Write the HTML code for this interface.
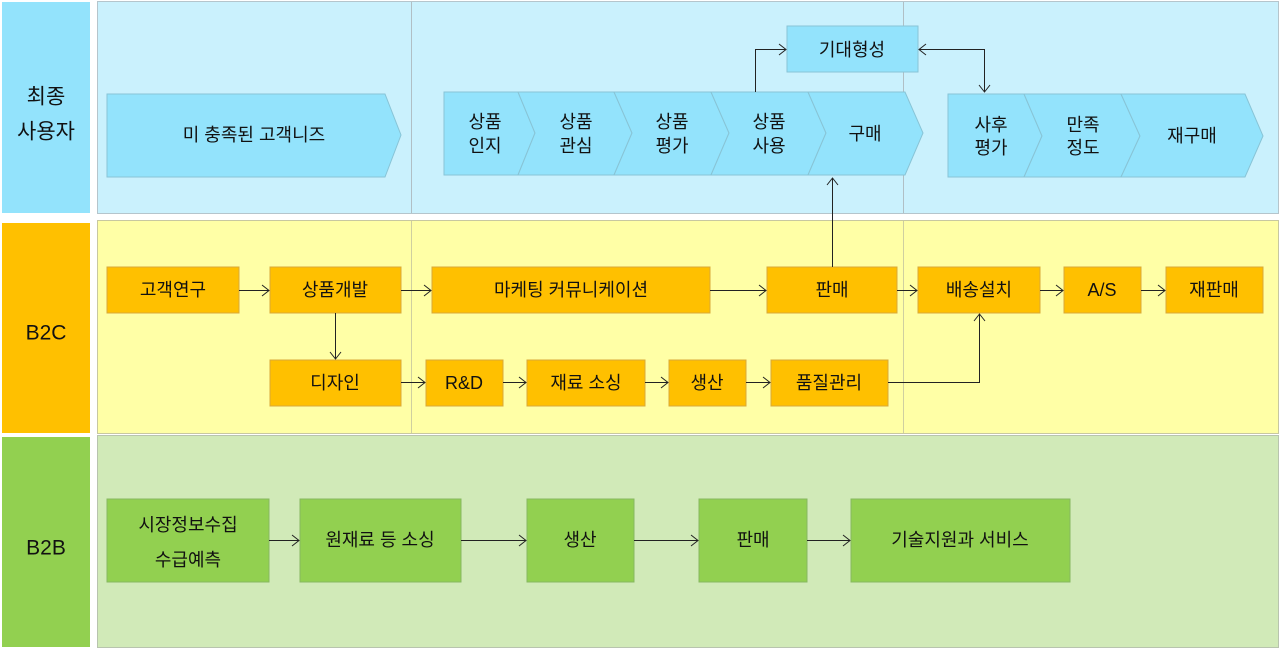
<!DOCTYPE html>
<html><head><meta charset="utf-8"><style>
html,body{margin:0;padding:0;background:#fff}
svg{display:block}
text{font-family:"Liberation Sans","Noto Sans CJK KR",sans-serif;font-size:18px;fill:#111;text-anchor:middle;dominant-baseline:central}
.ln{stroke:#222;stroke-width:1;fill:none}
</style></head><body>
<svg width="1280" height="649" viewBox="0 0 1280 649" xmlns="http://www.w3.org/2000/svg">
<rect x="2" y="2" width="88" height="211" fill="#93e3fc"/>
<rect x="2" y="223" width="88" height="210" fill="#ffc000"/>
<rect x="2" y="437" width="88" height="210" fill="#92d050"/>
<text x="46" y="97" style="font-size:21px">최종</text>
<text x="46" y="132" style="font-size:21px">사용자</text>
<text x="46" y="333" style="font-size:21px">B2C</text>
<text x="46" y="548" style="font-size:21px">B2B</text>
<rect x="97.5" y="1.5" width="1181" height="212" fill="#caf1fd" stroke="#b5c5cc"/>
<rect x="97.5" y="220.5" width="1181" height="213" fill="#ffffa6" stroke="#c8c8a0"/>
<rect x="97.5" y="435.5" width="1181" height="212" fill="#d1eab8" stroke="#b8c4ae"/>
<line x1="411.5" y1="2" x2="411.5" y2="213" stroke="#b0bfc5"/>
<line x1="903.5" y1="2" x2="903.5" y2="213" stroke="#b0bfc5"/>
<line x1="411.5" y1="221" x2="411.5" y2="433" stroke="#cfcfa0"/>
<line x1="903.5" y1="221" x2="903.5" y2="433" stroke="#cfcfa0"/>
<g fill="#93e3fc" stroke="#88c4d6">
<polygon points="107,94 385,94 401,135 385,177 107,177"/>
<polygon points="444,92 518,92 535,133 518,175 444,175"/>
<polygon points="518,92 614,92 632,133 614,175 518,175 535,133"/>
<polygon points="614,92 711,92 729,133 711,175 614,175 632,133"/>
<polygon points="711,92 808,92 826,133 808,175 711,175 729,133"/>
<polygon points="808,92 905,92 923,133 905,175 808,175 826,133"/>
<polygon points="948,94 1024,94 1042,136 1024,177 948,177"/>
<polygon points="1024,94 1121,94 1140,136 1121,177 1024,177 1042,136"/>
<polygon points="1121,94 1245,94 1263,136 1245,177 1121,177 1140,136"/>
<rect x="787" y="26" width="131" height="46"/>
</g>
<text x="254" y="135">미 충족된 고객니즈</text>
<text x="485" y="122">상품</text><text x="485" y="146">인지</text>
<text x="576" y="122">상품</text><text x="576" y="146">관심</text>
<text x="672" y="122">상품</text><text x="672" y="146">평가</text>
<text x="769" y="122">상품</text><text x="769" y="146">사용</text>
<text x="865" y="134">구매</text>
<text x="991" y="125">사후</text><text x="991" y="148">평가</text>
<text x="1083" y="125">만족</text><text x="1083" y="148">정도</text>
<text x="1192" y="136">재구매</text>
<text x="852" y="50">기대형성</text>
<g fill="#ffc000" stroke="#d8a83a">
<rect x="107" y="267" width="132" height="46"/>
<rect x="270" y="267" width="131" height="46"/>
<rect x="432" y="267" width="278" height="46"/>
<rect x="767" y="267" width="130" height="46"/>
<rect x="918" y="267" width="122" height="46"/>
<rect x="1064" y="267" width="77" height="46"/>
<rect x="1166" y="267" width="97" height="46"/>
<rect x="270" y="360" width="131" height="46"/>
<rect x="426" y="360" width="77" height="46"/>
<rect x="527" y="360" width="118" height="46"/>
<rect x="669" y="360" width="77" height="46"/>
<rect x="771" y="360" width="117" height="46"/>
</g>
<text x="173" y="290">고객연구</text>
<text x="335" y="290">상품개발</text>
<text x="571" y="290">마케팅 커뮤니케이션</text>
<text x="832" y="290">판매</text>
<text x="979" y="290">배송설치</text>
<text x="1102" y="290">A/S</text>
<text x="1214" y="290">재판매</text>
<text x="335" y="383">디자인</text>
<text x="464" y="383">R&amp;D</text>
<text x="586" y="383">재료 소싱</text>
<text x="707" y="383">생산</text>
<text x="829" y="383">품질관리</text>
<g fill="#92d050" stroke="#86b860">
<rect x="107" y="499" width="162" height="83"/>
<rect x="300" y="499" width="161" height="83"/>
<rect x="527" y="499" width="107" height="83"/>
<rect x="699" y="499" width="108" height="83"/>
<rect x="851" y="499" width="219" height="83"/>
</g>
<text x="188" y="525">시장정보수집</text>
<text x="188" y="560">수급예측</text>
<text x="380" y="540">원재료 등 소싱</text>
<text x="580" y="540">생산</text>
<text x="753" y="540">판매</text>
<text x="960" y="540">기술지원과 서비스</text>
<g class="ln">
<polyline points="755.5,92 755.5,49.5 786,49.5"/><polyline points="779,44 786,49.5 779,55"/>
<polyline points="919,49.5 984.5,49.5 984.5,92"/><polyline points="926,44 919,49.5 926,55"/><polyline points="979,85 984.5,92 990,85"/>
<polyline points="832.5,267 832.5,178"/><polyline points="827,185 832.5,178 838,185"/>
<line x1="239" y1="290.5" x2="269" y2="290.5"/><polyline points="262,285 269,290.5 262,296"/>
<line x1="401" y1="290.5" x2="431" y2="290.5"/><polyline points="424,285 431,290.5 424,296"/>
<line x1="710" y1="290.5" x2="766" y2="290.5"/><polyline points="759,285 766,290.5 759,296"/>
<line x1="897" y1="290.5" x2="917" y2="290.5"/><polyline points="910,285 917,290.5 910,296"/>
<line x1="1040" y1="290.5" x2="1063" y2="290.5"/><polyline points="1056,285 1063,290.5 1056,296"/>
<line x1="1141" y1="290.5" x2="1165" y2="290.5"/><polyline points="1158,285 1165,290.5 1158,296"/>
<line x1="335.5" y1="313" x2="335.5" y2="359"/><polyline points="330,352 335.5,359 341,352"/>
<line x1="401" y1="382.5" x2="425" y2="382.5"/><polyline points="418,377 425,382.5 418,388"/>
<line x1="503" y1="382.5" x2="526" y2="382.5"/><polyline points="519,377 526,382.5 519,388"/>
<line x1="645" y1="382.5" x2="668" y2="382.5"/><polyline points="661,377 668,382.5 661,388"/>
<line x1="746" y1="382.5" x2="770" y2="382.5"/><polyline points="763,377 770,382.5 763,388"/>
<polyline points="888,382.5 979.5,382.5 979.5,314"/><polyline points="974,321 979.5,314 985,321"/>
<line x1="269" y1="540.5" x2="299" y2="540.5"/><polyline points="292,535 299,540.5 292,546"/>
<line x1="461" y1="540.5" x2="526" y2="540.5"/><polyline points="519,535 526,540.5 519,546"/>
<line x1="634" y1="540.5" x2="698" y2="540.5"/><polyline points="691,535 698,540.5 691,546"/>
<line x1="807" y1="540.5" x2="850" y2="540.5"/><polyline points="843,535 850,540.5 843,546"/>
</g>
</svg>
</body></html>
